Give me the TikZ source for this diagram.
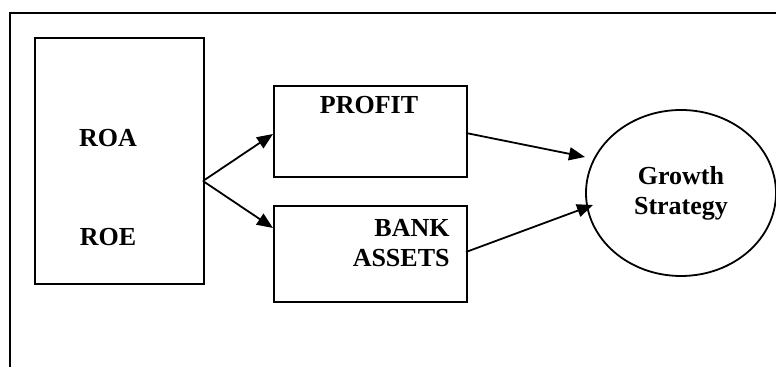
\documentclass[tikz,border=0pt]{standalone}
\usepackage{fontspec}
\setmainfont{Liberation Serif}
\usetikzlibrary{arrows.meta,shapes.geometric}

\tikzset{every picture/.style={line width=0.9pt}}
\tikzset{
  box/.style={draw, rectangle, inner sep=0pt, anchor=north west},
  lbl/.style={font=\fontsize{13}{15}\selectfont\bfseries, inner sep=0.75pt},
  link/.style={-{Triangle[length=8pt,width=6.5pt]}}
}

\begin{document}
\begin{tikzpicture}[x=0.5pt,y=0.5pt,yscale=-1,xscale=1]
\useasboundingbox (0,0) rectangle (776,367);
\clip (0,0) rectangle (776,367);

%Frame (left and top edges)
\draw [line width=1.1pt] (10,367) -- (10,13) -- (776,13) ;

%Shape: Rectangle
\node (ratios) [box, minimum width=84.5pt, minimum height=123pt] at (34,37) {};
%Shape: Rectangle
\node (profit) [box, minimum width=96.5pt, minimum height=45.5pt] at (273,85) {};
%Shape: Rectangle
\node (assets) [box, minimum width=96.5pt, minimum height=48pt] at (273,205) {};
%Shape: Ellipse
\node (growth) [draw, ellipse, inner sep=0pt, minimum width=95pt, minimum height=83pt, lbl, align=center] at (681,193) {Growth\\Strategy};

% Text Node
\node (roa) [lbl] at (108,138) {ROA};
% Text Node
\node (roe) [lbl] at (108,237) {ROE};
% Text Node
\node (profitlbl) [lbl] at (369,105) {PROFIT};
% Text Node
\node (assetslbl) [lbl, align=right, anchor=east] at (452,243.5) {BANK\\ASSETS};

%Connector ends
\coordinate (fork) at (203,181);
\coordinate (profitin) at (273,134);
\coordinate (assetsin) at (273,228);
\coordinate (profitout) at (466,133);
\coordinate (assetsout) at (466,252);
\coordinate (growthtop) at (585,157);
\coordinate (growthbot) at (593,205);

%Straight Lines
\draw [link] (fork) -- (profitin) ;
\draw [link] (fork) -- (assetsin) ;
\draw [link] (profitout) -- (growthtop) ;
\draw [link] (assetsout) -- (growthbot) ;

\end{tikzpicture}
\end{document}
